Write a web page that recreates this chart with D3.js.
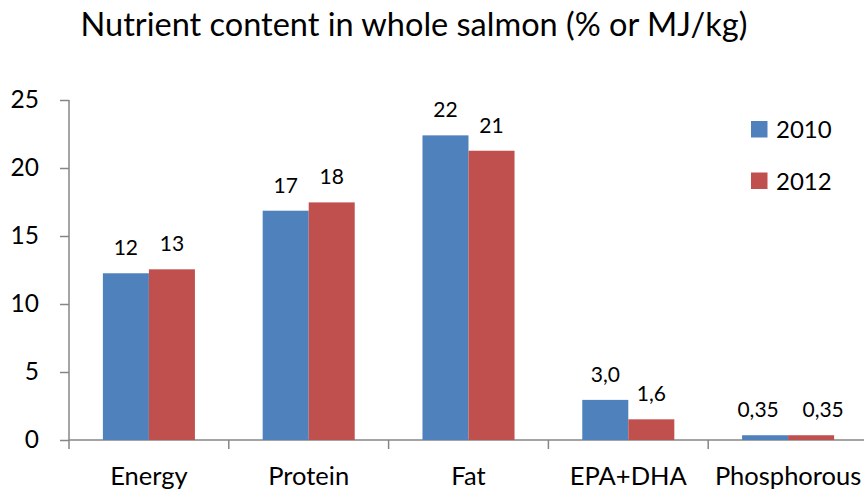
<!DOCTYPE html>
<html>
<head>
<meta charset="utf-8">
<script src="https://cdn.jsdelivr.net/npm/d3@7"></script>
<style>
  body { margin: 0; background: #fff; }
  text { font-family: Lato, "Open Sans", sans-serif; fill: #000; }
</style>
</head>
<body>
<svg width="864" height="493"></svg>
<script>
// values
const categories = ['Energy', 'Protein', 'Fat', 'EPA+DHA', 'Phosphorous']
const years = ['2010', '2012']
const values2010 = [12.26, 16.86, 22.4, 2.95, 0.35]
const values2012 = [12.55, 17.47, 21.27, 1.52, 0.35]
const labels2010 = ['12', '17', '22', '3,0', '0,35']
const labels2012 = ['13', '18', '21', '1,6', '0,35']
const yTicks = [0, 5, 10, 15, 20, 25]

const colors = { '2010': '#4F81BD', '2012': '#C0504D' }

const data = categories.map((c, i) => ({
  cat: c,
  bars: [
    { year: '2010', value: values2010[i], label: labels2010[i] },
    { year: '2012', value: values2012[i], label: labels2012[i] }
  ]
}))

const svg = d3.select('svg')

const x0 = d3.scaleBand().domain(categories).range([69, 868])
  .paddingInner(0.424).paddingOuter(0.212)
const x1 = d3.scaleBand().domain(years).range([0, x0.bandwidth()])
const y = d3.scaleLinear().domain([0, 25]).range([440, 100])

svg.append('text')
  .attr('x', 414).attr('y', 36)
  .attr('text-anchor', 'middle')
  .style('font-size', '32.5px')
  .text('Nutrient content in whole salmon (% or MJ/kg)')

// y axis
const yAxisGroup = svg.append('g').attr('transform', 'translate(69,0)')
yAxisGroup.call(d3.axisLeft(y).tickValues(yTicks).tickSize(9).tickPadding(21))
yAxisGroup.select('.domain').attr('d', 'M0,' + y(25) + 'V' + y(0))

// x axis
const xAxisGroup = svg.append('g').attr('transform', 'translate(0,440)')
const step = x0.step()
xAxisGroup.append('line')
  .attr('x1', 69).attr('x2', 864).attr('y1', 0).attr('y2', 0)
xAxisGroup.selectAll('.sep').data(d3.range(categories.length + 1)).enter()
  .append('line').attr('class', 'sep')
  .attr('x1', i => 69 + i * step).attr('x2', i => 69 + i * step)
  .attr('y1', 0).attr('y2', 9)
xAxisGroup.selectAll('.cat').data(categories).enter()
  .append('text').attr('class', 'cat')
  .attr('x', d => x0(d) + x0.bandwidth() / 2)
  .attr('y', 45)
  .attr('text-anchor', 'middle')
  .style('font-size', '25.5px')
  .text(d => d)

svg.selectAll('.domain, .tick line, g line').attr('stroke', '#868686').attr('stroke-width', 1.5)
yAxisGroup.selectAll('.tick text').style('font-size', '24.5px').attr('fill', '#000')

// bars
const groups = svg.selectAll('.grp').data(data).enter()
  .append('g').attr('class', 'grp')
  .attr('transform', d => 'translate(' + x0(d.cat) + ',0)')

groups.selectAll('rect').data(d => d.bars).enter()
  .append('rect')
  .attr('x', d => x1(d.year))
  .attr('y', d => y(d.value))
  .attr('width', x1.bandwidth())
  .attr('height', d => y(0) - y(d.value))
  .attr('fill', d => colors[d.year])

// labels on short bars sit too close together, push them apart like excel does
const labelShift = (d, cat) => cat === 'Phosphorous' ? (d.year === '2010' ? -7 : 12) : 0

groups.each(function (g) {
  d3.select(this).selectAll('.lbl').data(g.bars).enter()
    .append('text').attr('class', 'lbl')
    .attr('x', d => x1(d.year) + x1.bandwidth() / 2 + labelShift(d, g.cat))
    .attr('y', d => y(d.value) - 18)
    .attr('text-anchor', 'middle')
    .style('font-size', '21px')
    .text(d => d.label)
})

// legend
const legend = svg.selectAll('.leg').data(years).enter()
  .append('g').attr('class', 'leg')
  .attr('transform', (d, i) => 'translate(751,' + (121 + i * 51.5) + ')')
legend.append('rect').attr('width', 16.5).attr('height', 16.5)
  .attr('fill', d => colors[d])
legend.append('text').attr('x', 25).attr('y', 17)
  .style('font-size', '24px')
  .text(d => d)
</script>
</body>
</html>
